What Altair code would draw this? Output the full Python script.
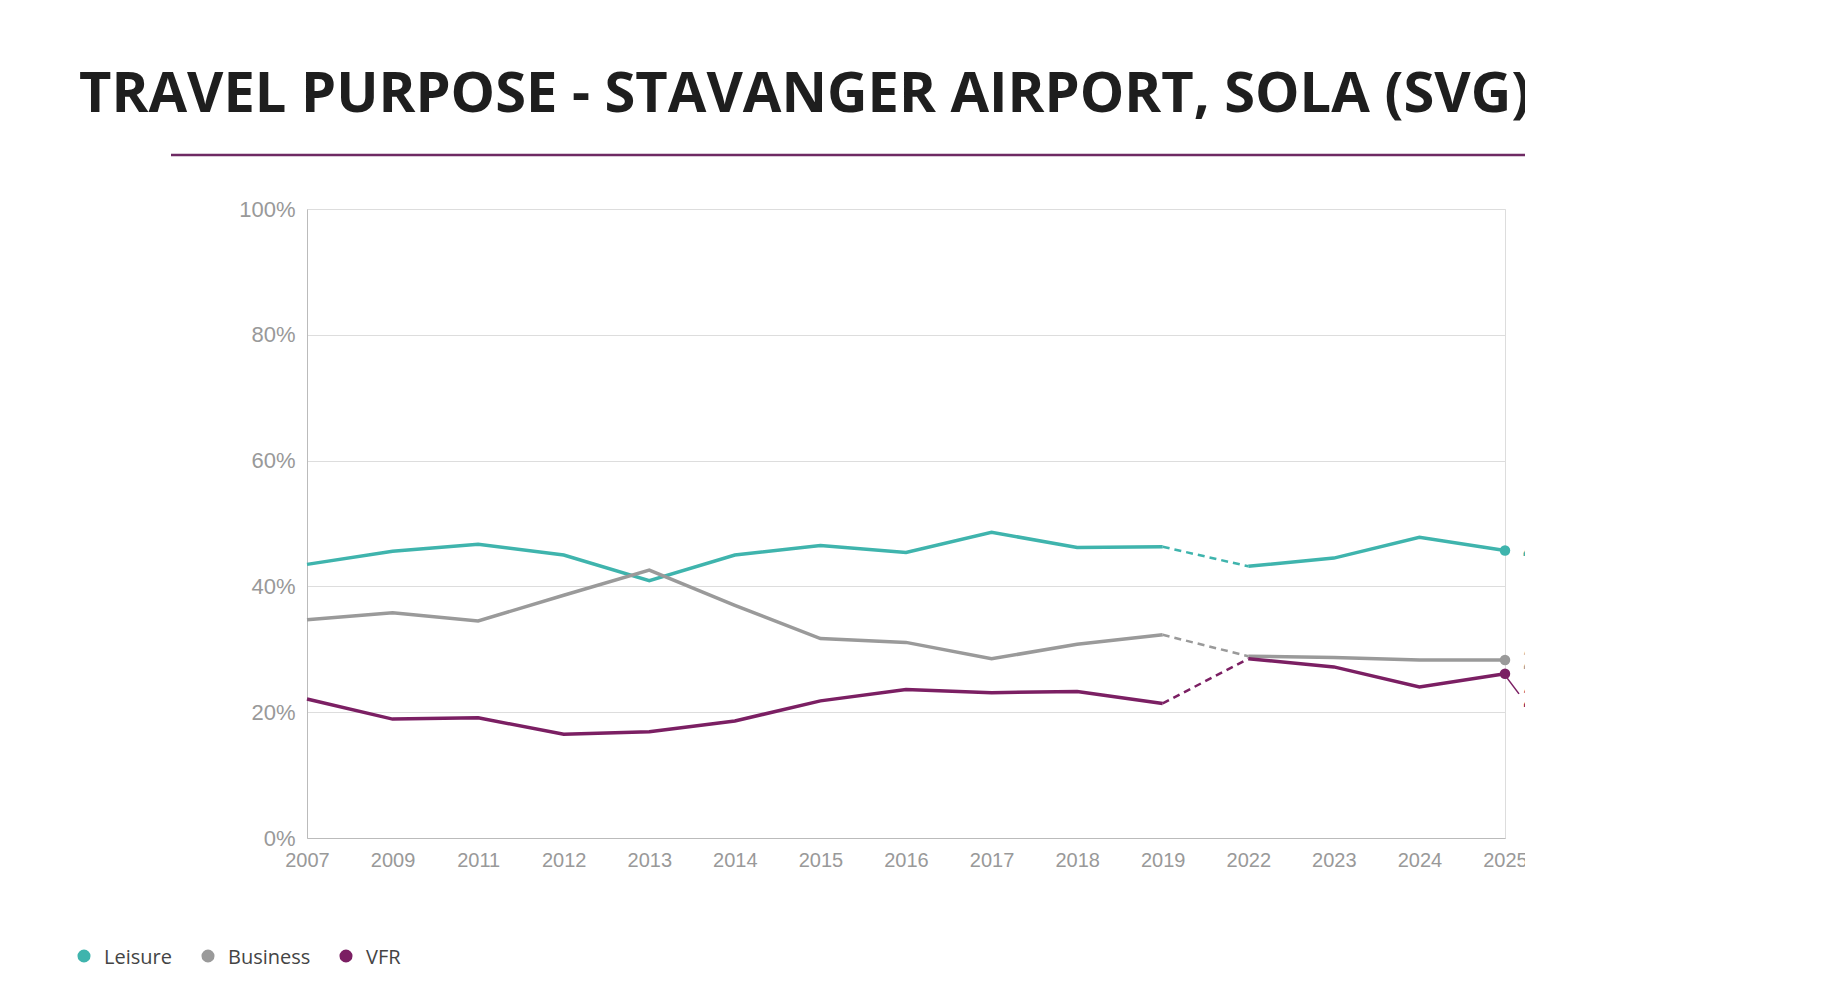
import altair as alt
import pandas as pd

years = ["2007","2009","2011","2012","2013","2014","2015","2016","2017","2018","2019","2022","2023","2024","2025"]
leisure = [43.5,45.6,46.7,45.0,40.9,45.0,46.5,45.4,48.6,46.2,46.3,43.2,44.5,47.8,45.7]
business = [34.7,35.8,34.5,38.6,42.6,37.0,31.7,31.1,28.5,30.8,32.3,28.9,28.7,28.3,28.3]
vfr = [22.1,18.9,19.1,16.5,16.9,18.6,21.8,23.6,23.1,23.3,21.4,28.5,27.2,24.0,26.1]
series = ["Leisure", "Business", "VFR"]
colors = ["#3fb4ad", "#9a9a9a", "#7b1f63"]

rows = []
for name, vals in zip(series, [leisure, business, vfr]):
    for i, (y, v) in enumerate(zip(years, vals)):
        part = "a" if i <= 10 else "b"
        rows.append({"year": y, "value": v, "series": name, "part": part, "idx": i})
df = pd.DataFrame(rows)

W, H = 1198, 629
xenc = alt.X("year:O", sort=years, scale=alt.Scale(type="point", padding=0),
             axis=alt.Axis(title=None, labelAngle=0, labelColor="#999999", labelFontSize=20,
                           labelFont="Liberation Sans", ticks=False, domainColor="#bbbbbb",
                           labelPadding=12, grid=False))
yenc = alt.Y("value:Q", scale=alt.Scale(domain=[0, 100]),
             axis=alt.Axis(title=None, values=[0,20,40,60,80,100], labelExpr="datum.value + '%'",
                           labelColor="#999999", labelFontSize=22, labelFont="Liberation Sans",
                           ticks=False, domainColor="#bbbbbb", gridColor="#dddddd", labelPadding=12))
cenc = alt.Color("series:N", scale=alt.Scale(domain=series, range=colors), legend=None)
xs = alt.X("year:O", sort=years)

base = alt.Chart(df)
solid = base.mark_line(strokeWidth=3.5).encode(x=xenc, y=yenc, color=cenc, detail="part:N")
dashed = alt.Chart(df[(df.idx == 10) | (df.idx == 11)]).mark_line(strokeWidth=2.5, strokeDash=[7, 5]).encode(
    x=xs, y="value:Q", color=cenc)
last = df[df.idx == 14].copy()
last["label"] = last["value"].map(lambda v: f"{v:.1f}%")
pts = alt.Chart(last).mark_circle(size=110, opacity=1, clip=False).encode(x=xs, y="value:Q", color=cenc)
lab1 = alt.Chart(last[last.series != "VFR"]).mark_text(align="left", dx=18, fontSize=29, fontWeight="bold",
    font="Liberation Sans", clip=False).encode(x=xs, y="value:Q", color=cenc, text="label:N")
lab2 = alt.Chart(last[last.series == "VFR"]).mark_text(align="left", dx=18, dy=24, fontSize=29, fontWeight="bold",
    font="Liberation Sans", clip=False).encode(x=xs, y="value:Q", color=cenc, text="label:N")

one = pd.DataFrame({"a": [0]})
title = alt.Chart(one).mark_text(text="TRAVEL PURPOSE -  STAVANGER AIRPORT, SOLA (SVG)", align="left",
                                 baseline="middle", fontSize=56, fontWeight="bold", font="Open Sans",
                                 color="#1e1e1e", clip=False).encode(x=alt.value(-228), y=alt.value(-114))
hr = alt.Chart(one).mark_rule(color="#6e2a63", strokeWidth=2.5, clip=False).encode(
    x=alt.value(-136), x2=alt.value(1371), y=alt.value(-54))
leader = alt.Chart(one).mark_rule(color="#7b1f63", strokeWidth=1.5, clip=False).encode(
    x=alt.value(W + 2), x2=alt.value(W + 14), y=alt.value(H * (1 - 0.261) + 4), y2=alt.value(H * (1 - 0.261) + 20))

leg = pd.DataFrame({"series": series, "x": [84, 208, 346]})
leg["xp"] = leg["x"] - 307
leg["xt"] = leg["x"] - 307 + 20
legdots = alt.Chart(leg).mark_circle(size=170, opacity=1, clip=False).encode(
    x=alt.X("xp:Q", scale=None), y=alt.value(747), color=cenc)
legtext = alt.Chart(leg).mark_text(align="left", baseline="middle", fontSize=20, font="Open Sans",
                                   color="#444444", clip=False).encode(x=alt.X("xt:Q", scale=None), y=alt.value(749), text="series:N")
logo = alt.Chart(one).mark_text(text="AVINOR", align="left", baseline="middle", fontSize=40, font="Open Sans",
                                fontWeight=600, color="#7b1f63", clip=False).encode(x=alt.value(1272), y=alt.value(740))
logo2 = alt.Chart(one).mark_rule(color="#7b1f63", strokeWidth=3, clip=False).encode(
    x=alt.value(1257), x2=alt.value(1248), y=alt.value(716), y2=alt.value(757))

chart = alt.layer(solid, dashed, pts, lab1, lab2, title, hr, leader, legdots, legtext, logo, logo2).properties(
    width=W, height=H, autosize=alt.AutoSizeParams(type="none"),
    padding={"left": 299, "top": 201, "right": 20, "bottom": 150}
).configure_view(stroke=None).configure(background="white")

chart.save("out.html", embed_options={"renderer": "svg", "actions": False})
